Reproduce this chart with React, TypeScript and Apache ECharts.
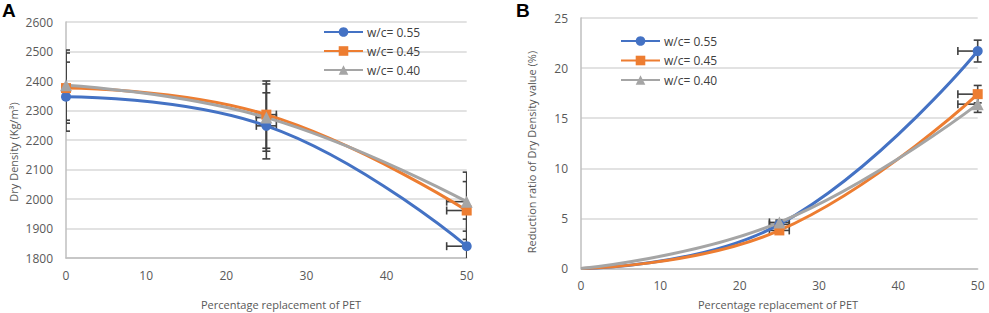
import React, { useEffect, useRef } from "react";
import * as echarts from "echarts";

const xValues = [0, 25, 50];
const seriesNames = ["w/c= 0.55", "w/c= 0.45", "w/c= 0.40"];
const colors = ["#4472C4", "#ED7D31", "#A5A5A5"];
const symbols = ["circle", "rect", "triangle"];

// Panel A: dry density (kg/m3)
const densA055 = [2347, 2248, 1840];
const densA045 = [2376, 2286, 1961];
const densA040 = [2386, 2276, 1991];
const errA055 = [117, 112, 92];
const errA045 = [119, 114, 98];
const errA040 = [119, 114, 100];

// Panel B: reduction ratio (%)
const redB055 = [0, 4.4, 21.7];
const redB045 = [0, 3.8, 17.4];
const redB040 = [0, 4.6, 16.4];
const errB055 = [0, 0.22, 1.09];
const errB045 = [0, 0.19, 0.87];
const errB040 = [0, 0.23, 0.82];

// horizontal error (x units)
const xErr = [0, 1.25, 2.5];

const xTicks = [0, 10, 20, 30, 40, 50];
const yTicksA = [1800, 1900, 2000, 2100, 2200, 2300, 2400, 2500, 2600];
const yTicksB = [0, 5, 10, 15, 20, 25];

const FONT = "Open Sans";
const ERR_COLOR = "#404040";

function makeErrSeries(idx: number, vals: number[], errs: number[], xMax: number, clip: boolean) {
  return {
    type: "custom",
    xAxisIndex: idx,
    yAxisIndex: idx,
    clip,
    silent: true,
    z: 3,
    data: xValues.map((x, i) => [x, vals[i], errs[i], xErr[i]]),
    renderItem: (params: any, api: any) => {
      const x = api.value(0);
      const y = api.value(1);
      const ye = api.value(2);
      const xe = api.value(3);
      const children: any[] = [];
      const style = { stroke: ERR_COLOR, lineWidth: 1.6 };
      const cap = 4;
      if (ye > 0) {
        const t = api.coord([x, y + ye]);
        const b = api.coord([x, y - ye]);
        children.push({ type: "line", shape: { x1: t[0], y1: t[1], x2: b[0], y2: b[1] }, style });
        children.push({ type: "line", shape: { x1: t[0] - cap, y1: t[1], x2: t[0] + cap, y2: t[1] }, style });
        children.push({ type: "line", shape: { x1: b[0] - cap, y1: b[1], x2: b[0] + cap, y2: b[1] }, style });
      }
      if (xe > 0) {
        const l = api.coord([x - xe, y]);
        const rx = Math.min(x + xe, xMax);
        const r = api.coord([rx, y]);
        children.push({ type: "line", shape: { x1: l[0], y1: l[1], x2: r[0], y2: r[1] }, style });
        children.push({ type: "line", shape: { x1: l[0], y1: l[1] - cap, x2: l[0], y2: l[1] + cap }, style });
        if (x + xe <= xMax) {
          children.push({ type: "line", shape: { x1: r[0], y1: r[1] - cap, x2: r[0], y2: r[1] + cap }, style });
        }
      }
      return { type: "group", children };
    },
  };
}

function makeLine(idx: number, k: number, vals: number[], hideFirst: boolean) {
  return {
    type: "line",
    name: seriesNames[k],
    xAxisIndex: idx,
    yAxisIndex: idx,
    data: xValues.map((x, i) =>
      hideFirst && i === 0 ? { value: [x, vals[i]], symbol: "none" } : { value: [x, vals[i]] }
    ),
    smooth: 0.45,
    symbol: symbols[k],
    symbolSize: k === 2 ? 12 : 10,
    showSymbol: true,
    z: 4,
    lineStyle: { color: colors[k], width: 3 },
    itemStyle: { color: colors[k] },
  };
}

export default function App() {
  const ref = useRef<HTMLDivElement>(null);
  useEffect(() => {
    document.body.style.margin = "0";
    const chart = echarts.init(ref.current!, null, { renderer: "svg" });
    const axisLabel = { color: "#595959", fontFamily: FONT, fontSize: 12, formatter: (v: number) => String(v) };
    const splitLine = { show: true, lineStyle: { color: "#D9D9D9", width: 1.5 } };
    const axisLine = { show: true, lineStyle: { color: "#BFBFBF", width: 1.5 } };
    const legendCommon = {
      orient: "vertical",
      itemWidth: 39,
      itemHeight: 12,
      itemGap: 7,
      padding: 0,
      data: seriesNames,
      textStyle: { color: "#404040", fontFamily: FONT, fontSize: 12, padding: [0, 0, 0, -1] },
      selectedMode: false,
    };
    const titleStyle = { fill: "#595959", font: `11px '${FONT}'`, textAlign: "center", textVerticalAlign: "middle" };
    chart.setOption({
      animation: false,
      grid: [
        { left: 66, top: 22, width: 400.7, height: 236 },
        { left: 581, top: 18, width: 396.7, height: 250.5 },
      ],
      xAxis: [0, 1].map((i) => ({
        type: "value",
        gridIndex: i,
        min: xTicks[0],
        max: xTicks[xTicks.length - 1],
        interval: 10,
        axisLine,
        axisTick: { show: false },
        splitLine: { show: false },
        axisLabel: { ...axisLabel, margin: 11 },
      })),
      yAxis: [
        {
          type: "value",
          gridIndex: 0,
          min: yTicksA[0],
          max: yTicksA[yTicksA.length - 1],
          interval: 100,
          axisLine,
          axisTick: { show: false },
          splitLine,
          axisLabel: { ...axisLabel, margin: 13 },
        },
        {
          type: "value",
          gridIndex: 1,
          min: yTicksB[0],
          max: yTicksB[yTicksB.length - 1],
          interval: 5,
          axisLine,
          axisTick: { show: false },
          splitLine,
          axisLabel: { ...axisLabel, margin: 13 },
        },
      ],
      legend: [
        { ...legendCommon, left: 323, top: 26 },
        { ...legendCommon, left: 620, top: 35, itemGap: 7.5 },
      ],
      graphic: [
        { type: "text", left: 2, top: 1, style: { text: "A", fill: "#000", font: "bold 19px 'Liberation Sans'" } },
        { type: "text", left: 516, top: 1, style: { text: "B", fill: "#000", font: "bold 19px 'Liberation Sans'" } },
        { type: "text", x: 13, y: 152, rotation: Math.PI / 2, style: { ...titleStyle, text: "Dry Density (Kg/m\u00B3)" } },
        { type: "text", x: 531, y: 152, rotation: Math.PI / 2, style: { ...titleStyle, text: "Reduction ratio of Dry Density value (%)" } },
        { type: "text", x: 281, y: 304, style: { ...titleStyle, text: "Percentage replacement of PET" } },
        { type: "text", x: 778, y: 304, style: { ...titleStyle, text: "Percentage replacement of PET" } },
      ],
      series: [
        makeErrSeries(0, densA055, errA055, 50, true),
        makeErrSeries(0, densA045, errA045, 50, true),
        makeErrSeries(0, densA040, errA040, 50, true),
        makeLine(0, 0, densA055, false),
        makeLine(0, 1, densA045, false),
        makeLine(0, 2, densA040, false),
        makeErrSeries(1, redB055, errB055, 50, false),
        makeErrSeries(1, redB045, errB045, 50, false),
        makeErrSeries(1, redB040, errB040, 50, false),
        makeLine(1, 0, redB055, true),
        makeLine(1, 1, redB045, true),
        makeLine(1, 2, redB040, true),
      ],
    });
    return () => chart.dispose();
  }, []);
  return <div ref={ref} style={{ position: "absolute", left: 0, top: 0, width: 989, height: 313 }} />;
}
